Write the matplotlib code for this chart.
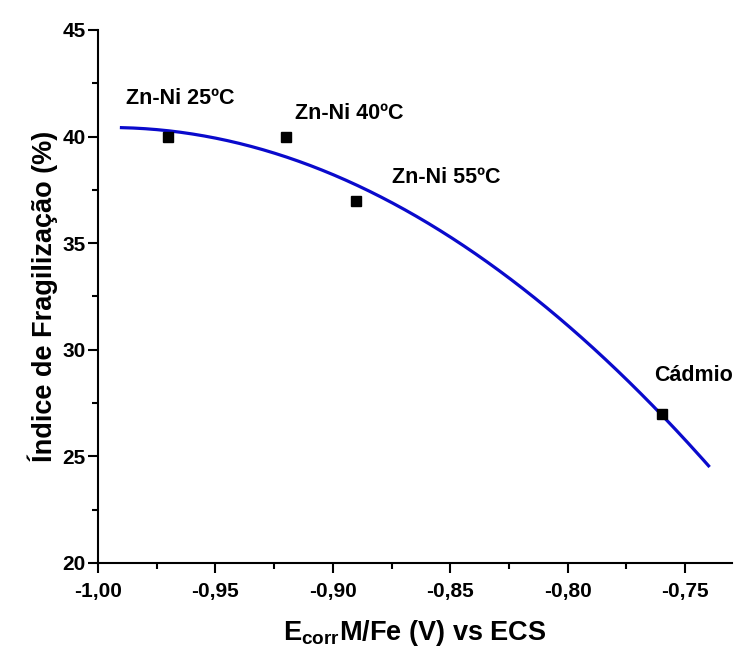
import numpy as np
import matplotlib
matplotlib.use("Agg")
import matplotlib.pyplot as plt
from matplotlib.ticker import MultipleLocator, FuncFormatter

# Corrosion potential vs embrittlement index for each coating
labels = ["Zn-Ni 25ºC", "Zn-Ni 40ºC", "Zn-Ni 55ºC", "Cádmio"]
e_corr = [-0.97, -0.92, -0.89, -0.76]
indice = [40.0, 40.0, 37.0, 27.0]
label_x = [-0.988, -0.916, -0.875, -0.763]
label_y = [41.8, 41.1, 38.1, 28.8]

# Second-order polynomial fit drawn over the measured range
fit_range = (-0.99, -0.74)

plt.rcParams["font.family"] = ["Liberation Sans", "DejaVu Sans"]
plt.rcParams["font.weight"] = "bold"
plt.rcParams["mathtext.fontset"] = "custom"
plt.rcParams["mathtext.bf"] = "Liberation Sans:bold"
plt.rcParams["mathtext.rm"] = "Liberation Sans:bold"

fig = plt.figure(figsize=(7.35, 6.56), dpi=100)
ax = fig.add_axes([0.1333, 0.1418, 0.8627, 0.8125])

coef = np.polyfit(e_corr, indice, 2)
xf = np.linspace(fit_range[0], fit_range[1], 200)
ax.plot(xf, np.polyval(coef, xf), color="#0a0acc", lw=2.3, zorder=2)
ax.plot(e_corr, indice, "s", color="black", ms=7, zorder=3)

for t, lx, ly in zip(labels, label_x, label_y):
    ax.text(lx, ly, t, fontsize=15.5, fontweight="bold", va="center", ha="left")

ax.set_xlim(-1.0, -0.73)
ax.set_ylim(20, 45)
ax.xaxis.set_major_locator(MultipleLocator(0.05))
ax.xaxis.set_minor_locator(MultipleLocator(0.025))
ax.yaxis.set_major_locator(MultipleLocator(5))
ax.yaxis.set_minor_locator(MultipleLocator(2.5))
ax.xaxis.set_major_formatter(FuncFormatter(lambda v, p: f"{v:.2f}".replace(".", ",")))
ax.yaxis.set_major_formatter(FuncFormatter(lambda v, p: f"{v:.0f}"))

for s in ("top", "right"):
    ax.spines[s].set_visible(False)
for s in ("left", "bottom"):
    ax.spines[s].set_linewidth(1.5)
ax.tick_params(which="major", direction="out", length=7, width=1.5, labelsize=15)
ax.tick_params(which="minor", direction="out", length=4, width=1.5)
ax.tick_params(axis="x", which="major", pad=7)
ax.tick_params(axis="y", which="major", pad=2)
for lab in ax.get_xticklabels() + ax.get_yticklabels():
    lab.set_fontweight("bold")

ax.set_xlabel(r"$\mathbf{E_{corr}}$M/Fe (V) vs ECS", fontsize=19.5, fontweight="bold", labelpad=12)
ax.set_ylabel("Índice de Fragilização (%)", fontsize=19.5, fontweight="bold", labelpad=3)

fig.savefig("out.png", dpi=100)
